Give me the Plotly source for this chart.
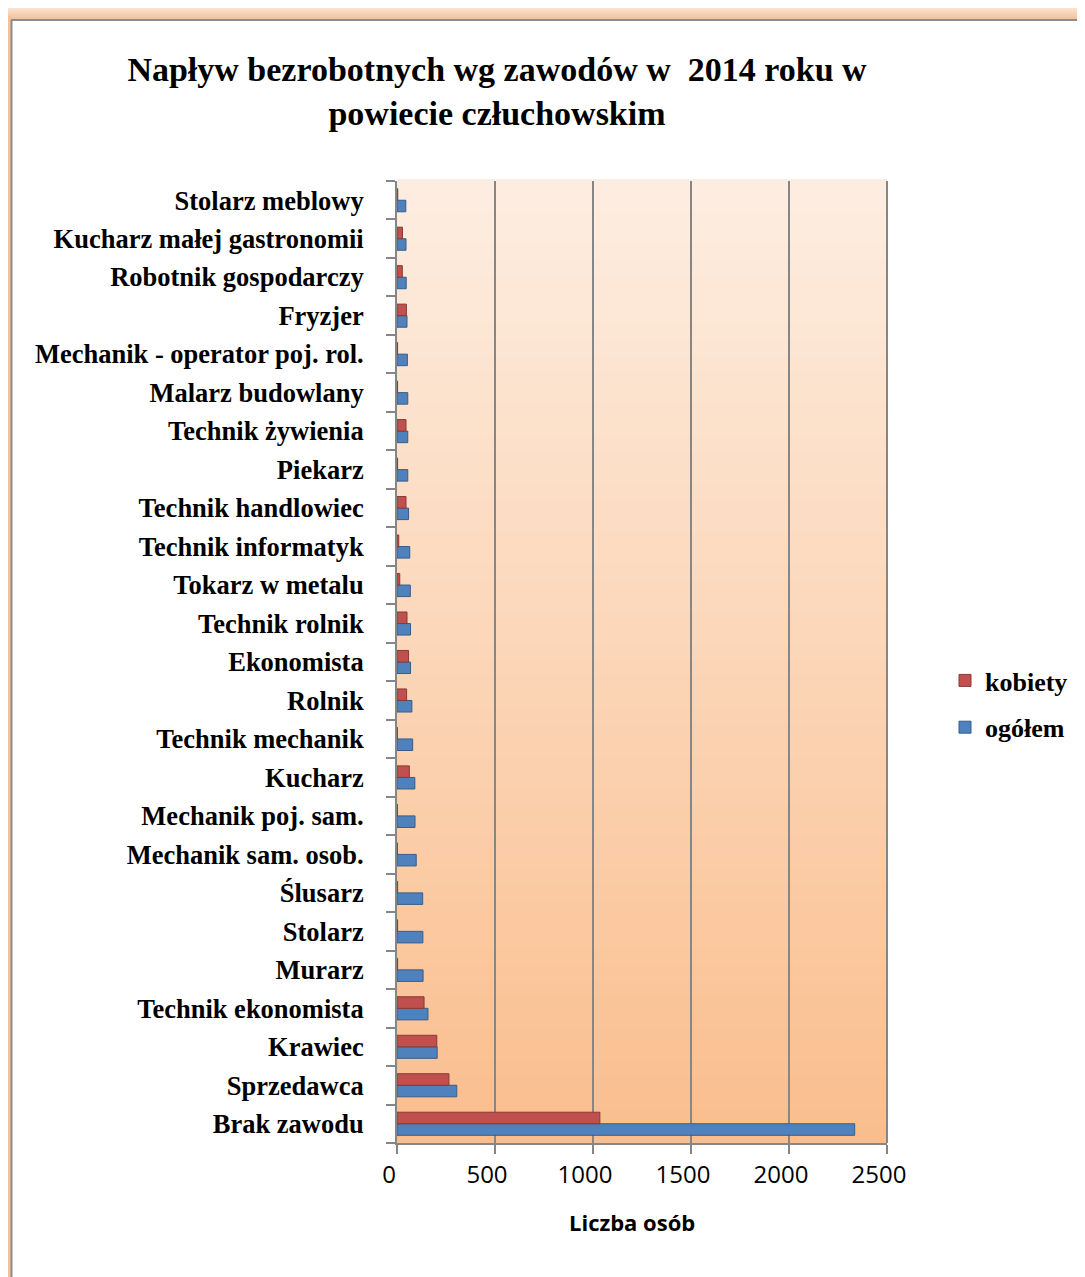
import plotly.graph_objects as go

# Data (bottom to top, as drawn on the category axis)
categories = [
    "Brak zawodu", "Sprzedawca", "Krawiec", "Technik ekonomista", "Murarz",
    "Stolarz", "Ślusarz", "Mechanik sam. osob.", "Mechanik poj. sam.", "Kucharz",
    "Technik mechanik", "Rolnik", "Ekonomista", "Technik rolnik", "Tokarz w metalu",
    "Technik informatyk", "Technik handlowiec", "Piekarz", "Technik żywienia",
    "Malarz budowlany", "Mechanik - operator poj. rol.", "Fryzjer",
    "Robotnik gospodarczy", "Kucharz małej gastronomii", "Stolarz meblowy",
]
ogolem = [2335, 305, 205, 158, 133, 132, 131, 98, 92, 91, 80, 76, 69, 69, 68,
          65, 59, 55, 55, 55, 53, 51, 47, 46, 45]
kobiety = [1035, 265, 203, 138, 3, 3, 3, 2, 2, 63, 2, 49, 59, 51, 14,
           9, 46, 3, 46, 3, 3, 48, 27, 28, 4]
x_ticks = [0, 500, 1000, 1500, 2000, 2500]

TITLE = "Napływ bezrobotnych wg zawodów w  2014 roku w<br>powiecie człuchowskim"
X_TITLE = "Liczba osób"

COLORS = {
    "blue": "#4f81bd",
    "blue_edge": "#385d8a",
    "red": "#c0504d",
    "red_edge": "#8c3836",
    "grid": "#868686",
    "frame": "#8c8c8c",
}

# the page body adds an 8px margin, so the figure is a bit smaller than the window
OFF = 8
W, H = 1085 - OFF, 1277 - OFF
# plot area in window pixels
L, R, T, B = 397, 887, 181, 1143
PW, PH = R - L, B - T


def pxx(p):
    return (p - L) / PW


def pxy(p):
    return 1 - (p - T) / PH


def mix(c1, c2, t):
    return "rgb(%d,%d,%d)" % tuple(round(a + (b - a) * t) for a, b in zip(c1, c2))


fig = go.Figure()

fig.add_trace(go.Bar(
    y=categories, x=ogolem, orientation="h", name="ogółem",
    marker=dict(color=COLORS["blue"], line=dict(color=COLORS["blue_edge"], width=1)),
    legendgroup="a", legendrank=2,
))
fig.add_trace(go.Bar(
    y=categories, x=kobiety, orientation="h", name="kobiety",
    marker=dict(color=COLORS["red"], line=dict(color=COLORS["red_edge"], width=1)),
    legendgroup="b", legendrank=1,
))

shapes = []
# vertical gradient of the plot background
top_c, bot_c = (253, 237, 224), (250, 190, 142)
n = 60
for i in range(n):
    shapes.append(dict(
        type="rect", xref="x domain", yref="y domain", layer="below",
        x0=0, x1=1, y0=1 - (i + 1) / n, y1=1 - i / n + 0.002,
        fillcolor=mix(top_c, bot_c, i / (n - 1)), line_width=0,
    ))
# right edge of back wall
shapes.append(dict(type="line", xref="x domain", yref="y domain", x0=1, x1=1,
                   y0=0, y1=1, line=dict(color=COLORS["grid"], width=2)))

# outer frame glow and border
for i in range(OFF, 19):
    shapes.append(dict(
        type="rect", xref="paper", yref="paper",
        x0=pxx(OFF), x1=pxx(1085), y0=pxy(i + 1), y1=pxy(i),
        fillcolor=mix((255, 252, 249), (244, 194, 154), i / 18), line_width=0,
    ))
shapes.append(dict(
    type="rect", xref="paper", yref="paper",
    x0=pxx(OFF), x1=pxx(11), y0=pxy(1277), y1=pxy(16),
    fillcolor="rgb(244,194,154)", line_width=0,
))
shapes.append(dict(type="line", xref="paper", yref="paper",
                   x0=pxx(11), x1=pxx(1085), y0=pxy(20), y1=pxy(20),
                   line=dict(color=COLORS["frame"], width=2)))
shapes.append(dict(type="line", xref="paper", yref="paper",
                   x0=pxx(11.5), x1=pxx(11.5), y0=pxy(20), y1=pxy(1277),
                   line=dict(color=COLORS["frame"], width=2)))

fig.update_layout(
    width=W, height=H,
    margin=dict(l=L - OFF, r=W - (R - OFF), t=T - OFF, b=H - (B - OFF), pad=0),
    paper_bgcolor="white",
    plot_bgcolor="rgba(0,0,0,0)",
    barmode="group",
    bargap=0.4,
    bargroupgap=0.0,
    shapes=shapes,
    title=dict(
        text=TITLE, xref="container", yref="container",
        x=(497 - OFF) / W, y=1 - (81 - OFF) / H, xanchor="center", yanchor="middle",
        font=dict(family="Liberation Serif", size=34, color="black", weight="bold"),
    ),
    legend=dict(
        x=pxx(945), y=pxy(657), xanchor="left", yanchor="top",
        traceorder="grouped", tracegroupgap=10,
        font=dict(family="Liberation Serif", size=26, color="black", weight="bold"),
        bgcolor="rgba(0,0,0,0)",
    ),
    annotations=[dict(
        text=X_TITLE, xref="paper", yref="paper", x=pxx(632), y=pxy(1222),
        xanchor="center", yanchor="middle", showarrow=False,
        font=dict(family="Open Sans", size=22, color="black", weight="bold"),
    )],
    xaxis=dict(
        range=[0, 2500], tickvals=x_ticks, showgrid=True,
        gridcolor=COLORS["grid"], gridwidth=2, zeroline=False,
        showline=True, linecolor=COLORS["grid"], linewidth=2,
        ticks="outside", ticklen=9, tickwidth=2, tickcolor=COLORS["grid"],
        ticklabelshift=-8,
        tickfont=dict(family="Open Sans", size=24, color="black"),
    ),
    yaxis=dict(
        type="category", categoryorder="array", categoryarray=categories,
        tickson="boundaries", ticks="outside", ticklen=9, tickwidth=2,
        tickcolor=COLORS["grid"], showline=True, linecolor=COLORS["grid"],
        linewidth=2, showgrid=False, ticklabelstandoff=26,
        tickfont=dict(family="Liberation Serif", size=26.5, color="black", weight="bold"),
    ),
)

fig.write_html("out.html")
